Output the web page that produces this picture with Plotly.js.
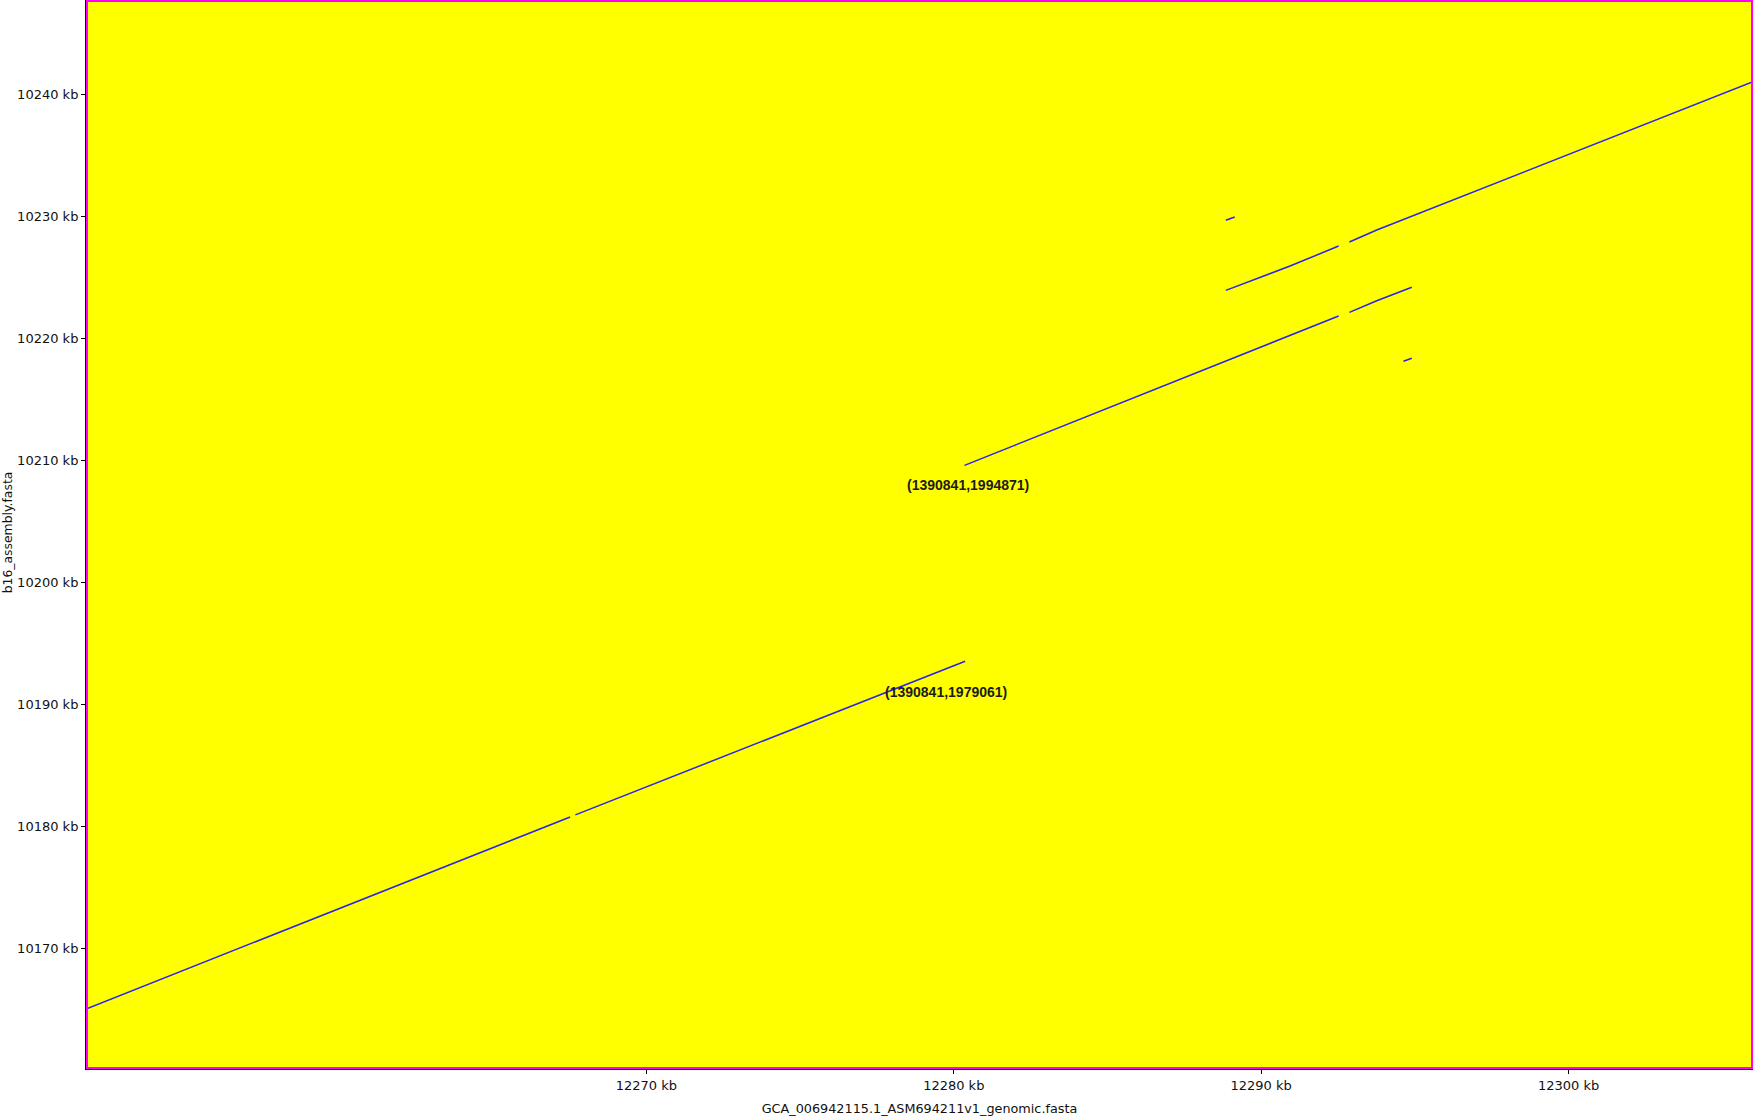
<!DOCTYPE html>
<html>
<head>
<meta charset="utf-8">
<script src="https://cdn.plot.ly/plotly-3.0.1.min.js"></script>
<style>
  html, body { margin: 0; padding: 0; background: #ffffff; }
  #chart { width: 1754px; height: 1120px; }
</style>
</head>
<body>
<div id="chart"></div>
<script>
// alignment segments in kb (x = GCA_006942115.1, y = b16_assembly), null = break between segments
const dotX = [
  12251.77, 12267.52, null,
  12267.69, 12280.37, null,
  12280.35, 12292.52, null,
  12292.87, 12293.76, 12294.90, null,
  12288.85, 12290.94, 12292.52, null,
  12292.87, 12293.76, 12306.00, null,
  12288.85, 12289.14, null,
  12294.63, 12294.90
];
const dotY = [
  10165.06, 10180.79, null,
  10180.96, 10193.55, null,
  10209.60, 10221.84, null,
  10222.14, 10223.09, 10224.19, null,
  10223.94, 10225.93, 10227.57, null,
  10227.90, 10228.88, 10241.03, null,
  10229.68, 10229.95, null,
  10218.13, 10218.37
];

// coordinate labels
const labelText = ['(1390841,1994871)', '(1390841,1979061)'];
const labelX = [12280.46, 12279.74];
const labelY = [10207.99, 10191.06];

// axis ticks
const xTickVals = [12270, 12280, 12290, 12300];
const xTickText = ['12270 kb', '12280 kb', '12290 kb', '12300 kb'];
const yTickVals = [10170, 10180, 10190, 10200, 10210, 10220, 10230, 10240];
const yTickText = ['10170 kb', '10180 kb', '10190 kb', '10200 kb', '10210 kb', '10220 kb', '10230 kb', '10240 kb'];

const trace = {
  x: dotX,
  y: dotY,
  type: 'scatter',
  mode: 'lines',
  connectgaps: false,
  line: { color: '#2525e8', width: 1.5 },
  hoverinfo: 'skip',
  showlegend: false,
};

const annotations = labelText.map((t, i) => ({
  x: labelX[i],
  y: labelY[i],
  xref: 'x',
  yref: 'y',
  text: '<b>' + t + '</b>',
  showarrow: false,
  font: { family: 'Liberation Sans, Arial, sans-serif', size: 14, color: '#1c1c1c' },
}));

annotations.push({
  xref: 'paper', yref: 'paper',
  x: 0, y: 0.502,
  xshift: -79,
  xanchor: 'center', yanchor: 'middle',
  textangle: -90,
  text: 'b16_assembly.fasta',
  showarrow: false,
  font: { family: 'DejaVu Sans, sans-serif', size: 12.4, color: '#111111' },
});

const layout = {
  width: 1754,
  height: 1120,
  paper_bgcolor: '#ffffff',
  plot_bgcolor: '#ffff00',
  font: { family: 'DejaVu Sans, sans-serif', color: '#111111', size: 13 },
  margin: { l: 86, r: 1, t: 0, b: 51, pad: 0 },
  xaxis: {
    range: [12251.77, 12306.0],
    tickvals: xTickVals,
    ticktext: xTickText,
    ticks: 'outside',
    ticklen: 4,
    tickcolor: '#000000',
    showgrid: false,
    zeroline: false,
    showline: true,
    linecolor: '#000000',
    linewidth: 1,
    tickfont: { size: 13, color: '#111111' },
    title: {
      text: 'GCA_006942115.1_ASM694211v1_genomic.fasta',
      font: { size: 12.8, color: '#111111' },
      standoff: 12,
    },
    fixedrange: true,
  },
  yaxis: {
    range: [10160.14, 10247.73],
    tickvals: yTickVals,
    ticktext: yTickText,
    ticks: 'outside',
    ticklen: 4,
    tickcolor: '#000000',
    showgrid: false,
    zeroline: false,
    showline: true,
    linecolor: '#000000',
    linewidth: 1,
    tickfont: { size: 13, color: '#111111' },
    fixedrange: true,
  },
  shapes: [{
    type: 'rect',
    xref: 'paper', yref: 'paper',
    x0: 1 / 1667, x1: 1 - 1 / 1667,
    y0: 1 / 1069, y1: 1 - 1 / 1069,
    line: { color: '#ff00ff', width: 2 },
    fillcolor: 'rgba(0,0,0,0)',
    layer: 'above',
  }],
  annotations: annotations,
};

Plotly.newPlot('chart', [trace], layout, { displayModeBar: false, staticPlot: true });
</script>
</body>
</html>
